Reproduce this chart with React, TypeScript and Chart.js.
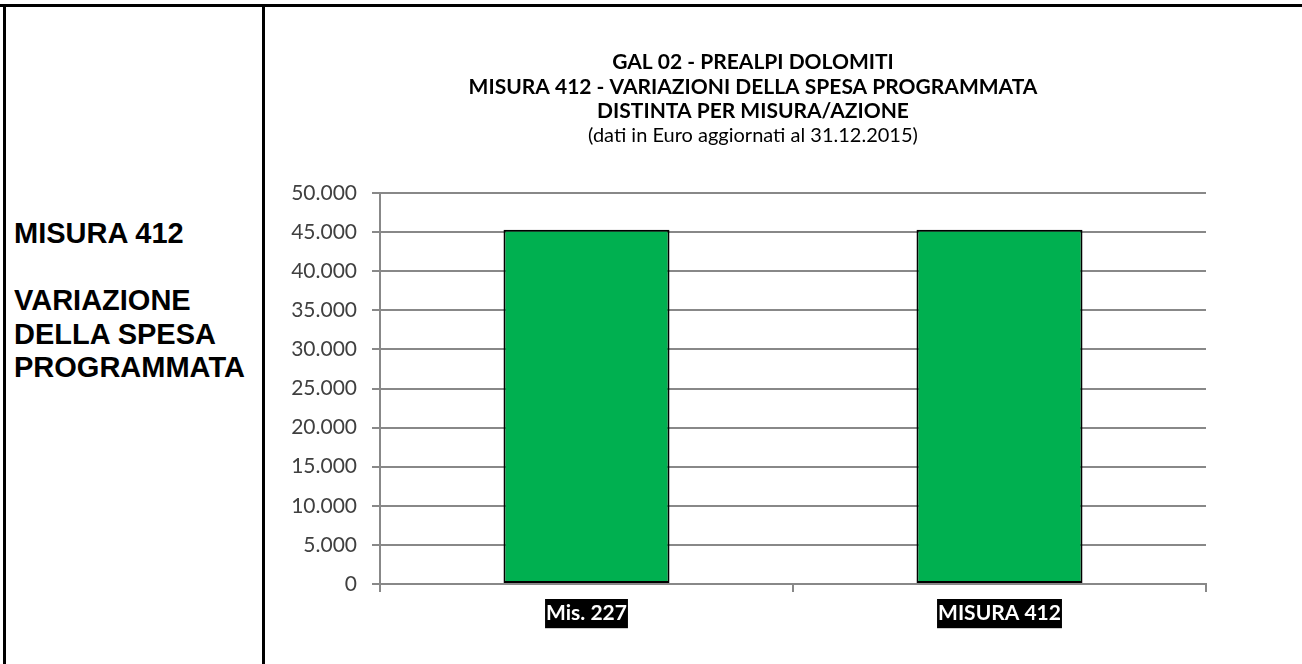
import React, { useEffect, useRef } from 'react';
import { Chart, registerables } from 'chart.js';

Chart.register(...registerables);

const categories = ['Mis. 227', 'MISURA 412'];
const spesaProgrammata = [45300, 45300];
const titleLines = [
  'GAL 02 - PREALPI DOLOMITI',
  'MISURA 412 - VARIAZIONI DELLA SPESA PROGRAMMATA',
  'DISTINTA PER MISURA/AZIONE',
];
const subtitleText = '(dati in Euro aggiornati al 31.12.2015)';
const sideLines = ['MISURA 412', '', 'VARIAZIONE', 'DELLA SPESA', 'PROGRAMMATA'];
const yMin = 0;
const yMax = 50000;
const yStep = 5000;

const fmt = (v: number) => String(v).replace(/\B(?=(\d{3})+(?!\d))/g, '.');

function BarChart() {
  const ref = useRef<HTMLCanvasElement | null>(null);
  useEffect(() => {
    let chart: Chart | null = null;
    let cancelled = false;
    const make = () => {
      if (cancelled || !ref.current) return;
      chart = new Chart(ref.current, {
        type: 'bar',
        data: {
          labels: categories,
          datasets: [
            {
              data: spesaProgrammata,
              backgroundColor: '#00B050',
              borderColor: '#000000',
              borderWidth: 2,
              borderSkipped: false,
              barPercentage: 0.402,
              categoryPercentage: 1,
              yAxisID: 'y',
            },
          ],
        },
        options: {
          animation: false,
          responsive: false,
          maintainAspectRatio: false,
          layout: { padding: { left: 0, right: 62, top: 0, bottom: 0 } },
          plugins: {
            legend: { display: false },
            tooltip: { enabled: false },
            title: {
              display: true,
              text: titleLines,
              color: '#000000',
              font: { family: 'Lato', size: 21, weight: 'bold', lineHeight: 24.5 / 21 },
              padding: { top: 43, bottom: 0 },
            },
            subtitle: {
              display: true,
              text: subtitleText,
              color: '#000000',
              font: { family: 'Lato', size: 20, weight: 'normal', lineHeight: 24.5 / 20 },
              padding: { top: 0, bottom: 45 },
            },
          },
          scales: {
            x: {
              grid: {
                display: true,
                drawOnChartArea: false,
                drawTicks: true,
                tickLength: 8,
                color: '#888888',
                lineWidth: 2,
                offset: true,
              },
              border: { display: true, color: '#888888', width: 2 },
              ticks: {
                color: '#ffffff',
                font: { family: 'Lato', size: 21, weight: 'bold' },
                padding: 9,
                showLabelBackdrop: true,
                backdropColor: '#000000',
                backdropPadding: { top: 2, bottom: 2, left: 1, right: 1 },
              },
              afterFit: (s: any) => {
                s.height = 80;
              },
            },
            y: {
              position: 'left',
              min: yMin,
              max: yMax,
              ticks: {
                stepSize: yStep,
                callback: (v: any) => fmt(Number(v)),
                color: '#404040',
                font: { family: 'Lato', size: 21 },
                padding: 15,
              },
              grid: { color: '#888888', lineWidth: 2, tickLength: 8 },
              border: { color: '#888888', width: 2 },
              afterFit: (s: any) => {
                s.width = 114;
              },
            },
            yRight: {
              position: 'right',
              display: true,
              grid: { display: false, drawTicks: false },
              border: { display: false },
              ticks: { display: false },
              afterFit: (s: any) => {
                s.width = 34;
              },
            },
          },
        },
      } as any);
    };
    const fonts = (document as any).fonts;
    if (fonts && fonts.load) {
      Promise.all([
        fonts.load('bold 21px Lato'),
        fonts.load('20px Lato'),
        fonts.load('bold 29px "Liberation Sans"'),
      ])
        .catch(() => null)
        .then(make);
    } else {
      make();
    }
    return () => {
      cancelled = true;
      if (chart) chart.destroy();
    };
  }, []);
  return (
    <canvas
      ref={ref}
      width={1036}
      height={657}
      style={{ position: 'absolute', left: 266, top: 7, width: 1036, height: 657, display: 'block' }}
    />
  );
}

export default function App() {
  return (
    <div
      style={{
        position: 'absolute',
        left: 0,
        top: 0,
        width: 1302,
        height: 664,
        background: '#ffffff',
        overflow: 'hidden',
      }}
    >
      <div style={{ position: 'absolute', left: 0, top: 4, width: 1302, height: 3, background: '#000' }} />
      <div style={{ position: 'absolute', left: 3, top: 4, width: 3, height: 660, background: '#000' }} />
      <div style={{ position: 'absolute', left: 262, top: 4, width: 3, height: 660, background: '#000' }} />
      <div
        style={{
          position: 'absolute',
          left: 14,
          top: 217,
          fontFamily: '"Liberation Sans", Arial, sans-serif',
          fontWeight: 'bold',
          fontSize: 29,
          lineHeight: '33.5px',
          color: '#000',
          whiteSpace: 'nowrap',
        }}
      >
        {sideLines.map((l, i) => (
          <div key={i} style={{ height: 33.5 }}>
            {l}
          </div>
        ))}
      </div>
      <BarChart />
    </div>
  );
}
